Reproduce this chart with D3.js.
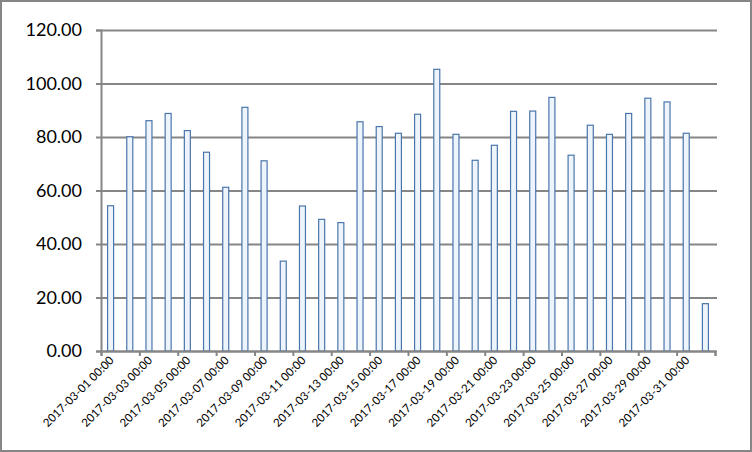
<!DOCTYPE html>
<html>
<head>
<meta charset="utf-8">
<script src="https://cdn.jsdelivr.net/npm/d3@7"></script>
<style>
  body { margin: 0; background: #fff; }
  svg { display: block; }
</style>
</head>
<body>
<svg id="chartSvg"></svg>
<script>
"use strict";

// chart data
const days = [
  "2017-03-01 00:00", "2017-03-02 00:00", "2017-03-03 00:00", "2017-03-04 00:00",
  "2017-03-05 00:00", "2017-03-06 00:00", "2017-03-07 00:00", "2017-03-08 00:00",
  "2017-03-09 00:00", "2017-03-10 00:00", "2017-03-11 00:00", "2017-03-12 00:00",
  "2017-03-13 00:00", "2017-03-14 00:00", "2017-03-15 00:00", "2017-03-16 00:00",
  "2017-03-17 00:00", "2017-03-18 00:00", "2017-03-19 00:00", "2017-03-20 00:00",
  "2017-03-21 00:00", "2017-03-22 00:00", "2017-03-23 00:00", "2017-03-24 00:00",
  "2017-03-25 00:00", "2017-03-26 00:00", "2017-03-27 00:00", "2017-03-28 00:00",
  "2017-03-29 00:00", "2017-03-30 00:00", "2017-03-31 00:00", "2017-04-01 00:00"
];
const values = [
  54.3, 80.1, 86.1, 88.8, 82.4, 74.3, 61.2, 91.1,
  71.1, 33.6, 54.2, 49.2, 48.0, 85.7, 83.9, 81.4,
  88.5, 105.3, 81.0, 71.3, 76.9, 89.6, 89.7, 94.8,
  73.2, 84.4, 81.0, 88.8, 94.5, 93.1, 81.4, 17.7
];
const yTicks = [0, 20, 40, 60, 80, 100, 120];
const labelEvery = 2;

// layout
const W = 752, H = 452;
const plot = {left: 101, right: 715, top: 30, bottom: 351};
const gridColor = "#868686";

const svg = d3.select("#chartSvg").attr("width", W).attr("height", H);

// outer frame
svg.append("rect")
  .attr("x", 1).attr("y", 1).attr("width", W - 2).attr("height", H - 2)
  .attr("fill", "#fff").attr("stroke", "#868686").attr("stroke-width", 2);

const x = d3.scaleBand().domain(days).range([plot.left, plot.right]).padding(0);
const xIdx = d3.scaleLinear().domain([0, days.length]).range([plot.left, plot.right]);
const y = d3.scaleLinear().domain([0, 120]).range([plot.bottom, plot.top]);

// gridlines
svg.append("g")
  .attr("transform", `translate(${plot.left},0)`)
  .call(d3.axisLeft(y).tickValues(yTicks).tickSize(-(plot.right - plot.left + 2)).tickFormat(""))
  .call(g => g.select(".domain").remove())
  .call(g => g.selectAll("line").attr("stroke", gridColor).attr("stroke-width", 2));

// y axis
svg.append("g")
  .attr("transform", `translate(${plot.left},0)`)
  .call(d3.axisLeft(y).tickValues(yTicks).tickSize(5).tickPadding(14).tickFormat(d3.format(".2f")))
  .call(g => g.select(".domain").attr("stroke", gridColor).attr("stroke-width", 2))
  .call(g => g.selectAll("line").attr("stroke", gridColor).attr("stroke-width", 2))
  .call(g => g.selectAll("text")
    .attr("font-family", "Lato, 'Open Sans', sans-serif")
    .attr("font-size", 18).attr("fill", "#000"));

// bars
const barW = 6;
svg.append("g").selectAll("rect")
  .data(values)
  .join("rect")
    .attr("x", (d, i) => x(days[i]) + x.bandwidth() / 2 - barW / 2)
    .attr("y", d => y(d))
    .attr("width", barW)
    .attr("height", d => y(0) - y(d))
    .attr("fill", "#eef4fb")
    .attr("stroke", "#4a76ac")
    .attr("stroke-width", 1.2);

// x axis, ticks between every second category
const tickIdx = d3.range(0, days.length + 1, labelEvery);
svg.append("g")
  .attr("transform", `translate(0,${plot.bottom})`)
  .call(d3.axisBottom(xIdx).tickValues(tickIdx).tickSize(5).tickFormat(""))
  .call(g => g.select(".domain").attr("stroke", gridColor).attr("stroke-width", 2))
  .call(g => g.selectAll("line").attr("stroke", gridColor).attr("stroke-width", 2));

// rotated category labels
svg.append("g").selectAll("text")
  .data(days.filter((d, i) => i % labelEvery === 0 && i < days.length - 1))
  .join("text")
    .attr("transform", d => `translate(${x(d) + x.bandwidth() / 2 + 4},${plot.bottom + 10}) rotate(-45)`)
    .attr("text-anchor", "end")
    .attr("font-family", "Lato, 'Open Sans', sans-serif")
    .attr("font-size", 11.5)
    .attr("fill", "#000")
    .text(d => d);
</script>
</body>
</html>
